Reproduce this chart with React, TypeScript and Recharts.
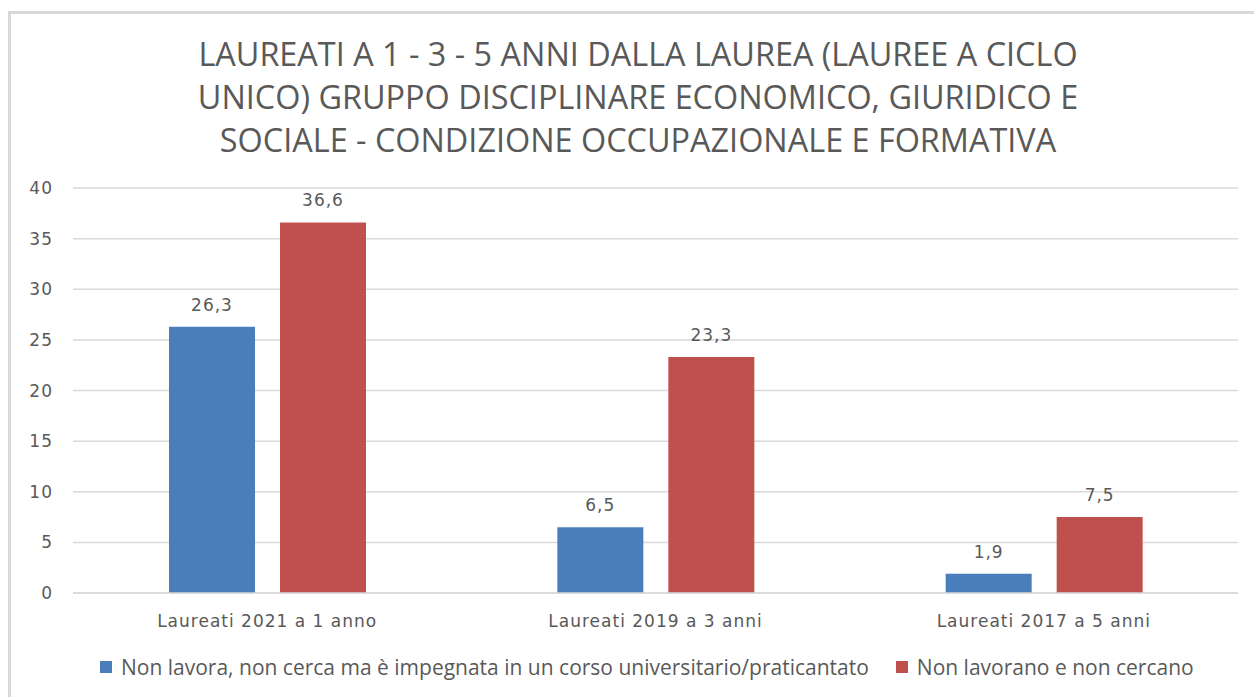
import React from 'react';
import { BarChart, Bar, XAxis, YAxis, CartesianGrid, LabelList } from 'recharts';

const categories = ['Laureati 2021 a 1 anno', 'Laureati 2019 a 3 anni', 'Laureati 2017 a 5 anni'];
const impegnati = [26.3, 6.5, 1.9];
const nonCercano = [36.6, 23.3, 7.5];
const seriesNames = [
  'Non lavora, non cerca ma è impegnata in un corso universitario/praticantato',
  'Non lavorano e non cercano',
];
const seriesKeys = ['impegnati', 'nonCercano'];
const seriesColors = ['#4a7ebb', '#c0504d'];
const yTicks = [0, 5, 10, 15, 20, 25, 30, 35, 40];
const titleLines = [
  'LAUREATI A 1 - 3 - 5 ANNI DALLA LAUREA (LAUREE A CICLO',
  'UNICO) GRUPPO DISCIPLINARE ECONOMICO, GIURIDICO E',
  'SOCIALE - CONDIZIONE OCCUPAZIONALE E FORMATIVA',
];

const data = categories.map((c, i) => ({ name: c, impegnati: impegnati[i], nonCercano: nonCercano[i] }));

const fmt = (v: any) => Number(v).toFixed(1).replace('.', ',');

const TEXT = '#595959';
const GRID = '#d9d9d9';
const TICK_FONT = '"DejaVu Sans", sans-serif';
const NARROW_FONT = '"Open Sans", sans-serif';

export default function App() {
  return (
    <div style={{ position: 'absolute', left: 0, top: 0, width: 1254, height: 697, overflow: 'hidden', background: '#fff' }}>
      <div style={{ position: 'absolute', left: 8, top: 11, width: 1300, height: 800, border: `3px solid ${GRID}`, boxSizing: 'border-box' }} />
      {titleLines.map((t, i) => (
        <div
          key={i}
          style={{
            position: 'absolute', left: 138, width: 1000, top: 53 + i * 43 - 20, height: 40, lineHeight: '40px',
            textAlign: 'center', fontFamily: NARROW_FONT, fontSize: 32.4, color: TEXT, whiteSpace: 'nowrap',
          }}
        >
          {t}
        </div>
      ))}
      <div style={{ position: 'absolute', left: 0, top: 0 }}>
        <BarChart width={1254} height={697} data={data} margin={{ top: 188, right: 16, left: 33, bottom: 74 }} barGap={25}>
          <CartesianGrid vertical={false} stroke={GRID} strokeWidth={1.5} />
          <XAxis
            dataKey="name"
            height={30}
            axisLine={{ stroke: GRID, strokeWidth: 1.5 }}
            tickLine={false}
            tickSize={6}
            tickMargin={16}
            tick={{ fill: TEXT, fontSize: 17, fontFamily: TICK_FONT, letterSpacing: 1 }}
          />
          <YAxis
            width={40}
            domain={[0, 40]}
            ticks={yTicks}
            axisLine={false}
            tickLine={false}
            tickSize={6}
            tickMargin={14}
            tick={{ fill: TEXT, fontSize: 17, fontFamily: TICK_FONT, letterSpacing: 1 }}
          />
          {seriesKeys.map((k, i) => (
            <Bar key={k} dataKey={k} name={seriesNames[i]} fill={seriesColors[i]} barSize={86} isAnimationActive={false}>
              <LabelList dataKey={k} position="top" offset={16} formatter={fmt} fill={TEXT} fontSize={17} fontFamily={TICK_FONT} style={{ letterSpacing: 1 }} />
            </Bar>
          ))}
        </BarChart>
      </div>
      <div style={{ position: 'absolute', left: 100, top: 654, height: 26, display: 'flex', alignItems: 'center', fontFamily: NARROW_FONT, fontSize: 21, color: TEXT, whiteSpace: 'nowrap' }}>
        {seriesNames.map((n, i) => (
          <div key={i} style={{ display: 'flex', alignItems: 'center', marginRight: 27 }}>
            <span style={{ display: 'inline-block', width: 12, height: 12, background: seriesColors[i], marginRight: 9 }} />
            <span>{n}</span>
          </div>
        ))}
      </div>
    </div>
  );
}
